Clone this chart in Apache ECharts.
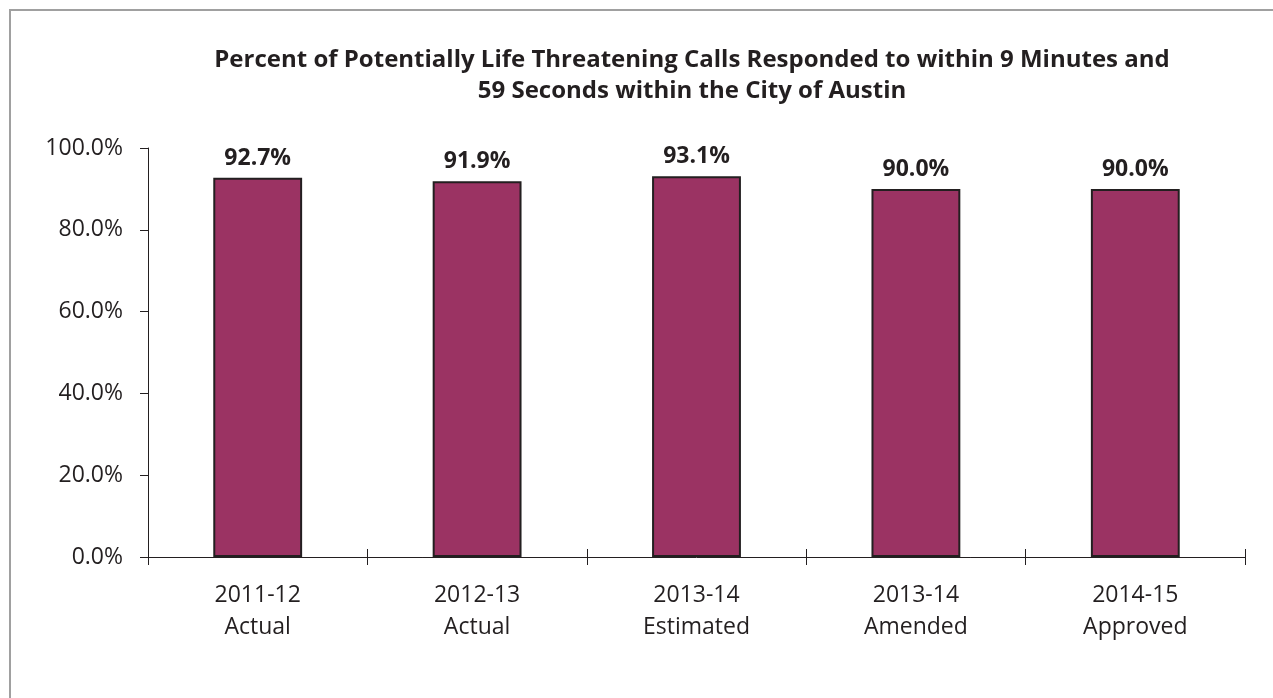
<!DOCTYPE html>
<html><head><meta charset="utf-8">
<script src="https://cdn.jsdelivr.net/npm/echarts@6/dist/echarts.min.js"></script>
<style>html,body{margin:0;padding:0;background:#fff;}#c{width:1273px;height:698px;}</style>
</head><body><div id="c"></div>
<script>
const categories = ['2011-12\nActual', '2012-13\nActual', '2013-14\nEstimated', '2013-14\nAmended', '2014-15\nApproved'];
const values = [92.7, 91.9, 93.1, 90.0, 90.0];
const yTicks = [0, 20, 40, 60, 80, 100];
const titleText = 'Percent of Potentially Life Threatening Calls Responded to within 9 Minutes and\n59 Seconds within the City of Austin';

const FONT = '"Open Sans", sans-serif';
const chart = echarts.init(document.getElementById('c'), null, {renderer: 'canvas'});
chart.setOption({
  animation: false,
  backgroundColor: '#fff',
  graphic: [{type: 'rect', shape: {x: 10, y: 10, width: 1400, height: 800}, style: {fill: 'none', stroke: '#a0a0a0', lineWidth: 2}, silent: true, z: -1}],
  title: {text: titleText, left: 687, top: 40, textAlign: 'center',
    textStyle: {fontFamily: FONT, fontWeight: 'bold', fontSize: 24, color: '#231f20', lineHeight: 31}},
  grid: {left: 148, right: 28, top: 148, bottom: 141, containLabel: false},
  xAxis: [{
    type: 'category', data: categories,
    axisLine: {lineStyle: {color: '#231f20', width: 1}},
    axisTick: {show: true, length: 8, alignWithLabel: false, lineStyle: {color: '#231f20'}},
    axisLabel: {fontFamily: FONT, fontSize: 23, color: '#231f20', margin: 22, lineHeight: 32}
  }, {
    type: 'category', data: categories, position: 'bottom',
    axisLine: {show: false},
    axisTick: {show: true, inside: true, length: 8, lineStyle: {color: '#231f20'}},
    axisLabel: {show: false}
  }],
  yAxis: {
    type: 'value', min: 0, max: 100, interval: 20,
    axisLine: {show: true, lineStyle: {color: '#231f20'}},
    axisTick: {show: true, length: 8, lineStyle: {color: '#231f20'}},
    splitLine: {show: false},
    axisLabel: {fontFamily: FONT, fontSize: 23, color: '#231f20', margin: 25,
      formatter: v => yTicks.includes(v) ? v.toFixed(1) + '%' : ''}
  },
  series: [{
    type: 'bar', data: values, barWidth: '40.5%',
    itemStyle: {color: '#9b3363', borderColor: '#231f20', borderWidth: 2},
    label: {show: true, position: 'top', distance: 8, fontFamily: FONT, fontWeight: 'bold', fontSize: 23, color: '#231f20',
      formatter: p => p.value.toFixed(1) + '%'}
  }]
});
</script></body></html>
